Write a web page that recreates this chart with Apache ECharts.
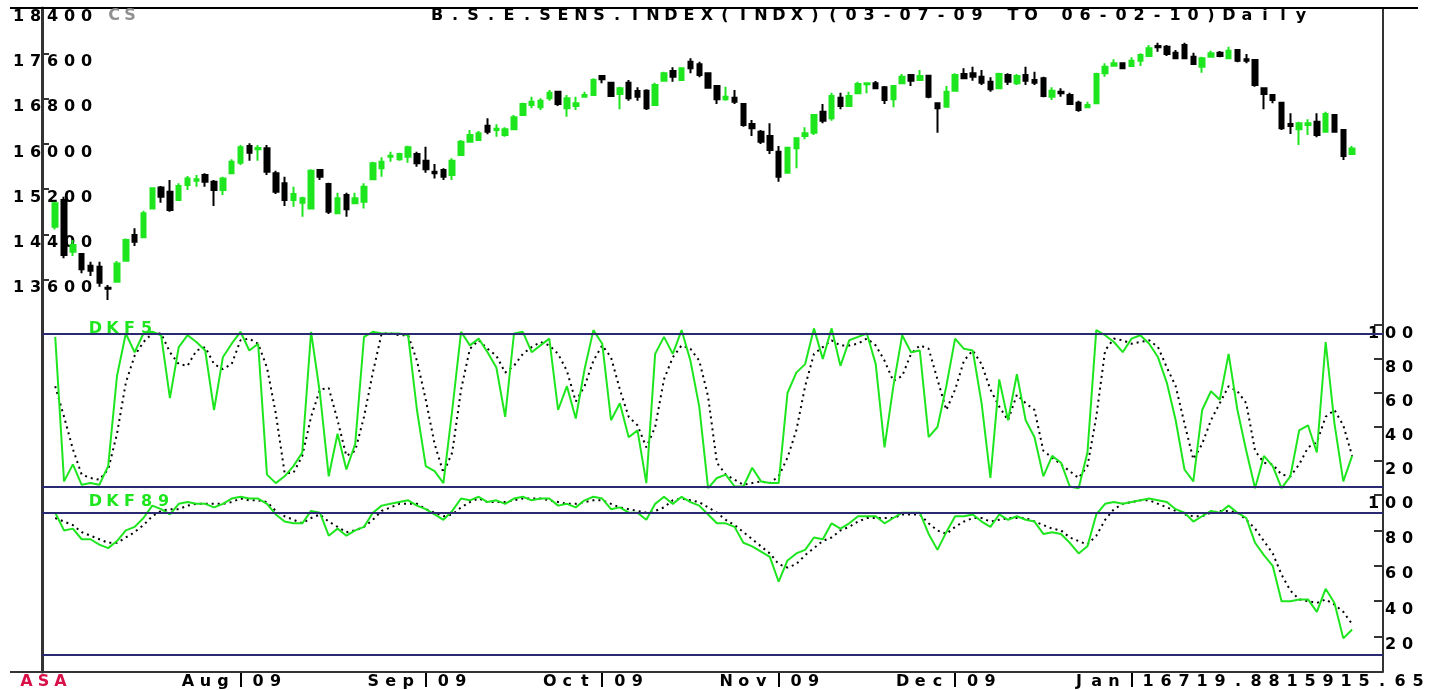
<!DOCTYPE html>
<html>
<head>
<meta charset="utf-8">
<title>B.S.E.SENS.INDEX Daily</title>
<script src="https://cdn.jsdelivr.net/npm/echarts@6.0.0/dist/echarts.min.js"></script>
<style>
  html, body { margin: 0; padding: 0; background: #fff; }
  #chart { width: 1434px; height: 690px; }
</style>
</head>
<body>
<div id="chart"></div>
<script>
// daily candles, 03-07-09 .. 05-02-10 (148 sessions)
const opens = [
  14535, 15007, 14094, 14053, 13846, 13829, 13457, 13563, 13934, 14389, 14348, 14860,
  15231, 15154, 15007, 15272, 15348, 15449, 15330, 15184, 15479, 15666, 15961, 15903,
  15921, 15479, 15302, 15007, 14959, 14860, 15537, 15290, 14772, 15095, 14949, 14977,
  15373, 15567, 15772, 15726, 15772, 15820, 15701, 15507, 15537, 15449, 15802, 16037,
  16067, 16320, 16244, 16156, 16256, 16509, 16686, 16645, 16804, 16921, 16627, 16668,
  16832, 16862, 17198, 17080, 16880, 17080, 16933, 16938, 16686, 17115, 17286, 17127,
  17451, 17405, 17246, 17021, 16786, 16815, 16703, 16350, 16214, 16138, 15860, 15489,
  15921, 16138, 16196, 16567, 16451, 16815, 16668, 16892, 17051, 17069, 16998, 16786,
  17069, 17216, 17127, 17203, 16716, 16656, 16938, 17233, 17246, 17186, 17097, 16981,
  17216, 17069, 17216, 17127, 17157, 16832, 16921, 16862, 16726, 16645, 16716, 17246,
  17380, 17423, 17375, 17468, 17552, 17728, 17716, 17610, 17746, 17539, 17362, 17539,
  17610, 17511, 17658, 17493, 17481, 16981, 16862, 16726, 16350, 16256, 16332, 16391,
  16214, 16509, 16244, 15820
];
const highs = [
  14977, 15065, 14300, 14065, 13917, 13917, 13505, 13929, 14330, 14507, 14818, 15231,
  15254, 15360, 15302, 15431, 15449, 15479, 15360, 15419, 15726, 15979, 16009, 15979,
  15979, 15525, 15419, 15242, 15065, 15550, 15550, 15313, 15136, 15136, 15136, 15302,
  15684, 15762, 15860, 15843, 15967, 15860, 15949, 15643, 15567, 15744, 16067, 16244,
  16226, 16451, 16345, 16292, 16509, 16726, 16832, 16804, 16951, 16933, 16862, 16832,
  16921, 17157, 17216, 17097, 17009, 17127, 16998, 16963, 17080, 17274, 17352, 17352,
  17511, 17451, 17256, 17039, 17009, 16951, 16716, 16421, 16244, 16362, 15961, 15949,
  16115, 16292, 16527, 16703, 16903, 16903, 16921, 17097, 17080, 17110, 17021, 17039,
  17233, 17233, 17304, 17216, 16726, 17021, 17246, 17334, 17362, 17304, 17175, 17256,
  17246, 17233, 17362, 17274, 17186, 16998, 16981, 16903, 16762, 16744, 17256, 17423,
  17493, 17433, 17529, 17599, 17746, 17787, 17746, 17658, 17787, 17610, 17539, 17645,
  17640, 17716, 17670, 17587, 17493, 16998, 16880, 16744, 16539, 16391, 16433, 16539,
  16567, 16527, 16256, 15961
];
const lows = [
  14489, 13977, 14017, 13712, 13664, 13475, 13240, 13560, 13917, 14194, 14348, 14843,
  14959, 14800, 15007, 15184, 15242, 15242, 14901, 15095, 15479, 15625, 15701, 15701,
  15449, 15113, 14901, 14889, 14712, 14860, 15360, 14760, 14760, 14712, 14936, 14860,
  15360, 15419, 15684, 15701, 15666, 15595, 15489, 15390, 15360, 15360, 15802, 16019,
  16050, 16168, 16126, 16126, 16256, 16509, 16627, 16597, 16762, 16668, 16479, 16597,
  16832, 16862, 17069, 16832, 16610, 16762, 16762, 16597, 16686, 17115, 17097, 17115,
  17246, 17175, 16981, 16703, 16762, 16703, 16302, 16138, 15996, 15820, 15330, 15489,
  15567, 16080, 16156, 16362, 16408, 16610, 16668, 16892, 16892, 16963, 16703, 16645,
  17057, 17021, 17115, 16804, 16196, 16656, 16938, 17140, 17115, 17039, 16921, 16963,
  17039, 17039, 17039, 17039, 16822, 16774, 16832, 16686, 16567, 16645, 16703, 17186,
  17380, 17316, 17375, 17375, 17552, 17627, 17552, 17493, 17493, 17392, 17256, 17539,
  17529, 17511, 17440, 17423, 17009, 16610, 16716, 16244, 16173, 15979, 16156, 16115,
  16214, 16196, 15714, 15820
];
const closes = [
  14949, 14035, 14212, 13783, 13758, 13546, 13440, 13888, 14300, 14270, 14772, 15214,
  15065, 14830, 15254, 15390, 15373, 15330, 15184, 15390, 15684, 15938, 15843, 15926,
  15507, 15154, 15007, 15113, 15037, 15525, 15419, 14800, 15037, 14843, 15037, 15242,
  15656, 15684, 15790, 15820, 15938, 15656, 15550, 15479, 15419, 15701, 16037, 16156,
  16186, 16214, 16267, 16256, 16468, 16703, 16744, 16762, 16903, 16703, 16804, 16716,
  16862, 17127, 17140, 16845, 16981, 16804, 16832, 16627, 17039, 17246, 17186, 17334,
  17334, 17216, 16989, 16786, 16832, 16744, 16332, 16274, 16037, 15890, 15419, 15931,
  16097, 16186, 16509, 16408, 16845, 16668, 16845, 17057, 17069, 16981, 16774, 17021,
  17186, 17115, 17198, 16832, 16627, 16921, 17216, 17157, 17186, 17080, 16963, 17233,
  17097, 17198, 17115, 17080, 16845, 16938, 16892, 16703, 16597, 16686, 17233, 17362,
  17423, 17334, 17468, 17569, 17688, 17705, 17587, 17511, 17511, 17410, 17511, 17599,
  17552, 17645, 17468, 17468, 17039, 16880, 16774, 16274, 16315, 16362, 16362, 16156,
  16527, 16214, 15785, 15916
];

// oscillators, 0..100
const dkf5 = [
  93, 8, 18, 6, 7, 6, 17, 70, 95, 84, 95, 96,
  94, 57, 87, 94, 90, 85, 50, 81, 89, 96, 85, 89,
  12, 7, 11, 17, 25, 96, 60, 11, 36, 15, 30, 93,
  96, 95, 95, 95, 94, 50, 17, 14, 7, 50, 96, 88,
  92, 84, 75, 46, 95, 96, 84, 88, 92, 50, 64, 45,
  74, 97, 89, 44, 54, 34, 38, 7, 83, 93, 83, 97,
  79, 52, 4, 10, 12, 5, 5, 16, 8, 7, 7, 60,
  72, 77, 98, 80, 98, 76, 91, 93, 95, 77, 28, 64,
  94, 84, 85, 34, 40, 64, 92, 86, 85, 54, 10, 68,
  44, 71, 44, 34, 11, 23, 19, 5, 4, 25, 97, 94,
  90, 84, 92, 94, 89, 81, 66, 44, 15, 8, 50, 61,
  56, 83, 50, 26, 4, 23, 17, 4, 11, 38, 41, 25,
  90, 42, 8, 23
];
const dkf5Signal = [
  64, 46, 27, 12, 10, 9, 15, 36, 66, 82, 90, 95,
  95, 84, 77, 76, 85, 87, 77, 74, 77, 91, 92, 89,
  75, 48, 13, 13, 23, 46, 62, 63, 44, 23, 26, 46,
  72, 95, 95, 94, 94, 79, 56, 30, 13, 25, 62, 86,
  91, 86, 82, 72, 76, 83, 87, 90, 88, 83, 73, 55,
  64, 79, 88, 81, 62, 46, 41, 28, 40, 68, 81, 88,
  86, 79, 58, 19, 12, 9, 6, 7, 8, 7, 11, 22,
  38, 64, 83, 87, 91, 88, 88, 89, 92, 88, 79, 67,
  70, 83, 88, 86, 68, 50, 62, 79, 85, 77, 62, 52,
  44, 59, 54, 50, 26, 22, 18, 14, 10, 17, 46, 85,
  92, 91, 89, 90, 91, 87, 75, 64, 42, 21, 30, 44,
  54, 64, 61, 54, 26, 19, 18, 12, 11, 18, 28, 31,
  46, 50, 41, 23
];
const dkf89 = [
  90, 80, 81, 75, 75, 72, 70, 74, 80, 82, 87, 94,
  92, 89, 95, 96, 95, 95, 93, 95, 98, 99, 98, 98,
  95, 89, 85, 84, 84, 91, 90, 77, 81, 77, 80, 82,
  90, 94, 95, 96, 97, 94, 92, 89, 86, 91, 98, 97,
  99, 96, 97, 95, 98, 99, 97, 98, 98, 94, 95, 93,
  97, 99, 98, 92, 93, 90, 90, 86, 95, 99, 95, 99,
  96, 94, 89, 84, 84, 82, 73, 71, 68, 65, 51, 63,
  67, 69, 76, 75, 84, 81, 84, 88, 88, 88, 84, 87,
  90, 90, 90, 78, 69, 79, 88, 88, 89, 85, 82, 89,
  86, 88, 86, 85, 78, 79, 78, 73, 67, 71, 89, 95,
  96, 95, 96, 97, 98, 97, 96, 92, 90, 85, 88, 91,
  90, 94, 90, 87, 73, 66, 60, 40, 40, 41, 41, 34,
  47, 39, 19, 24
];
const dkf89Signal = [
  87, 85, 83, 79, 77, 75, 73, 73, 76, 79, 83, 88,
  91, 92, 92, 94, 95, 95, 95, 95, 96, 98, 97, 97,
  96, 91, 88, 86, 84, 87, 89, 85, 82, 79, 80, 82,
  86, 91, 93, 95, 95, 95, 92, 90, 88, 89, 93, 96,
  98, 96, 96, 96, 97, 98, 98, 98, 97, 96, 95, 95,
  96, 97, 97, 95, 93, 92, 91, 90, 91, 93, 97, 98,
  97, 96, 93, 90, 86, 83, 79, 75, 71, 67, 61, 59,
  61, 66, 70, 74, 76, 80, 82, 85, 87, 87, 87, 87,
  89, 89, 89, 84, 80, 78, 82, 85, 87, 87, 85, 86,
  87, 87, 87, 85, 83, 81, 80, 76, 74, 72, 77, 86,
  92, 95, 96, 97, 97, 95, 93, 91, 89, 88, 88, 90,
  91, 91, 90, 86, 81, 74, 67, 55, 46, 41, 40, 39,
  41, 38, 34, 27
];

const monthLabels = ['Aug 09', 'Sep 09', 'Oct 09', 'Nov 09', 'Dec 09', 'Jan 10'];
const monthStarts = [21, 42, 62, 82, 102, 122];
const dkf5Levels = [95, 5];
const dkf89Levels = [90, 10];

const TITLE = 'B.S.E.SENS.INDEX(INDX)(03-07-09 TO 06-02-10)Daily';
const LAST_VALUES = '16719.8815915.65';

const GREEN = '#1ee61e';
const NAVY = '#2a2a72';
const AXIS = '#333';
const FONT = 'DejaVu Sans';
const FONT_SIZE = 16;

// empty slots so the first candle sits a little off the left axis
const LEAD = 1, TRAIL = 3;
const pad = arr => [...Array(LEAD).fill('-'), ...arr, ...Array(TRAIL).fill('-')];
const categories = Array.from({ length: LEAD + opens.length + TRAIL }, (_, k) => String(k - LEAD));
const labelAt = {};
monthStarts.forEach((d, j) => { labelAt[d + LEAD] = monthLabels[j]; });
const isMonth = idx => labelAt[idx] !== undefined;

const candles = pad(opens.map((o, i) => [o, closes[i], lows[i], highs[i]]));
for (let k = 0; k < LEAD; k++) candles[k] = ['-', '-', '-', '-'];
for (let k = candles.length - TRAIL; k < candles.length; k++) candles[k] = ['-', '-', '-', '-'];

// old terminal look: every glyph in a fixed wide cell
const cells = (s, key) => s.split('').map(ch => '{' + key + '|' + ch + '}').join('');
const cellStyle = (w, color) => ({
  width: w, align: 'center', color: color,
  fontFamily: FONT, fontWeight: 'bold', fontSize: FONT_SIZE, lineHeight: 17
});
const zrCell = (w, fill) => ({
  width: w, align: 'center', fill: fill,
  fontFamily: FONT, fontWeight: 'bold', fontSize: FONT_SIZE, lineHeight: 17
});
const textEl = (x, y, str, w, fill, extra) => ({
  type: 'text', x: x, y: y, z: 100,
  style: Object.assign({
    text: cells(str, 'c'), align: 'left', verticalAlign: 'top',
    rich: { c: zrCell(w, fill) }
  }, extra || {})
});

const grids = [
  { left: 42, right: 51, top: 8, height: 317 },
  { left: 42, right: 51, top: 325, height: 170 },
  { left: 42, right: 51, top: 495, height: 177 }
].map(g => Object.assign({ outerBoundsMode: 'none', containLabel: false }, g));

const xAxisFor = (gi, withLabels) => ({
  type: 'category', gridIndex: gi, data: categories, boundaryGap: true,
  axisLine: { show: false },
  axisTick: withLabels
    ? { show: true, interval: isMonth, alignWithLabel: true, length: 15, lineStyle: { color: '#000', width: 2 } }
    : { show: false },
  axisLabel: withLabels
    ? {
        show: true, interval: isMonth, margin: 1,
        formatter: (v, idx) => cells(labelAt[idx] + ' ', 'c'),
        rich: { c: cellStyle(17.5, '#000') }
      }
    : { show: false },
  splitLine: { show: false }
});

const plainY = (gi, pos, min, max) => ({
  type: 'value', gridIndex: gi, position: pos, min: min, max: max,
  axisLine: { show: true, lineStyle: { color: AXIS, width: pos === 'left' ? 3 : 2 } },
  axisTick: { show: false }, axisLabel: { show: false }, splitLine: { show: false }
});

const oscY = gi => ({
  type: 'value', gridIndex: gi, position: 'right', min: 0, max: 100, interval: 20,
  axisLine: { show: true, lineStyle: { color: AXIS, width: 2 } },
  axisTick: { show: true, inside: true, length: 9, lineStyle: { color: AXIS, width: 2 } },
  axisLabel: {
    showMinLabel: false, align: 'right', verticalAlign: 'top', margin: 33,
    formatter: v => cells(String(v), 'c'), rich: { c: cellStyle(17, '#000') }
  },
  splitLine: { show: false }
});

const levelLines = levels => ({
  silent: true, symbol: 'none', animation: false,
  label: { show: false },
  lineStyle: { color: NAVY, width: 2, type: 'solid' },
  data: levels.map(v => ({ yAxis: v }))
});

const oscLine = (name, data, xi, yi, dotted, levels) => {
  const s = {
    name: name, type: 'line', xAxisIndex: xi, yAxisIndex: yi, data: pad(data),
    showSymbol: false, symbol: 'none', smooth: false,
    lineStyle: dotted ? { color: '#000', width: 2, type: [2, 4] } : { color: GREEN, width: 2 },
    z: dotted ? 3 : 4
  };
  if (levels) s.markLine = levelLines(levels);
  return s;
};

const chart = echarts.init(document.getElementById('chart'), null, { renderer: 'canvas' });
const option = {
  backgroundColor: '#fff',
  animation: false,
  grid: grids,
  xAxis: [xAxisFor(0, false), xAxisFor(1, false), xAxisFor(2, true)],
  yAxis: [
    {
      type: 'value', gridIndex: 0, position: 'left', min: 12800, max: 18400, interval: 800,
      axisLine: { show: true, lineStyle: { color: AXIS, width: 3 } },
      axisTick: { show: true, inside: true, length: 7, lineStyle: { color: AXIS, width: 2 } },
      axisLabel: {
        showMinLabel: false, align: 'left', verticalAlign: 'top', margin: 32,
        formatter: v => cells(String(v), 'c'), rich: { c: cellStyle(17, '#000') }
      },
      splitLine: { show: false }
    },
    plainY(0, 'right', 12800, 18400),
    plainY(1, 'left', 0, 100),
    oscY(1),
    plainY(2, 'left', 0, 100),
    oscY(2)
  ],
  series: [
    {
      name: 'SENSEX', type: 'candlestick', xAxisIndex: 0, yAxisIndex: 0,
      data: candles, barWidth: 5,
      itemStyle: { color: GREEN, color0: '#000', borderColor: GREEN, borderColor0: '#000', borderWidth: 2 }
    },
    oscLine('DKF5', dkf5, 1, 3, false, dkf5Levels),
    oscLine('DKF5 signal', dkf5Signal, 1, 3, true),
    oscLine('DKF89', dkf89, 2, 5, false, dkf89Levels),
    oscLine('DKF89 signal', dkf89Signal, 2, 5, true)
  ],
  graphic: [
    { type: 'line', z: 90, shape: { x1: 10, y1: 8, x2: 1418, y2: 8 }, style: { stroke: '#000', lineWidth: 2 } },
    { type: 'line', z: 90, shape: { x1: 10, y1: 672, x2: 1383, y2: 672 }, style: { stroke: AXIS, lineWidth: 2 } },
    textEl(428, 7, TITLE, 18, '#000'),
    textEl(106, 7, 'CS', 16, '#909090'),
    textEl(87, 320, 'DKF5', 17, GREEN),
    textEl(87, 493, 'DKF89', 17, GREEN),
    textEl(18, 673, 'ASA', 17, '#d81048'),
    textEl(1139, 673, LAST_VALUES, 18, '#000', { backgroundColor: '#fff' })
  ]
};
chart.setOption(option);
</script>
</body>
</html>
